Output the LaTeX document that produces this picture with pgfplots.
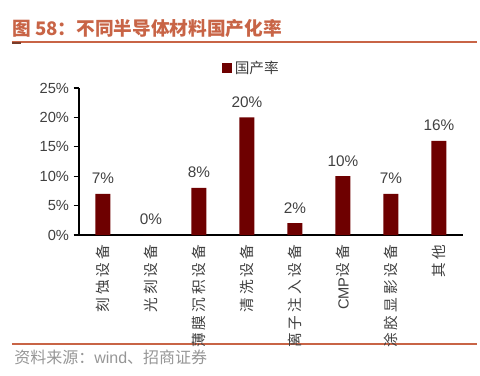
\documentclass[border=0pt]{standalone}
\usepackage{pgfplots}
\pgfplotsset{compat=1.18}
\usepackage{fontspec}
\setmainfont{Liberation Sans}
\newfontfamily\cjk{Noto Sans CJK SC}
\newfontfamily\cjksp{Noto Sans CJK SC}[LetterSpace=20]
\newfontfamily\lat{Liberation Sans}
\definecolor{barred}{RGB}{110,0,0}
\definecolor{titlecol}{RGB}{200,100,70}
\definecolor{txtgray}{RGB}{64,64,64}
\definecolor{srcgray}{RGB}{150,150,150}
\begin{document}
\begin{tikzpicture}
\useasboundingbox (0,0) rectangle (360pt,282pt);
\node[anchor=west, text=titlecol, font=\cjk\bfseries\fontsize{14}{15}\selectfont, inner sep=0pt] at (9pt,261pt) {图 58：不同半导体材料国产化率};
\draw[titlecol, line width=0.8pt] (9pt,250.5pt) -- (357.75pt,250.5pt);
\draw[titlecol!60!black, line width=1.5pt] (9pt,250pt) -- (16pt,250pt);
\draw[titlecol, line width=0.8pt] (9pt,24pt) -- (357.75pt,24pt);
\node[anchor=west, text=srcgray, font=\cjk\fontsize{12}{13}\selectfont, inner sep=0pt] at (10.5pt,14.25pt) {资料来源：{\lat wind}、招商证券};
\begin{axis}[
  at={(59.25pt,105.75pt)}, anchor=south west,
  scale only axis, width=288pt, height=110.25pt,
  xmin=-0.5, xmax=7.5, ymin=0, ymax=25,
  axis x line*=bottom, axis y line*=left,
  axis line style={-, black, line width=0.8pt},
  tick align=outside,
  ytick={0,5,10,15,20,25},
  yticklabel={\pgfmathprintnumber{\tick}\%},
  /pgf/number format/assume math mode=true,
  yticklabel style={font=\fontsize{11}{12}\selectfont, text=txtgray},
  y tick style={black, line width=0.8pt},
  major tick length=4pt,
  xtick={0,1,2,3,4,5,6,7},
  x tick style={draw=none},
  minor xtick={-0.5,0.5,1.5,2.5,3.5,4.5,5.5,6.5,7.5},
  minor x tick style={black, line width=0.8pt},
  minor tick length=4pt,
  xticklabels={刻蚀设备,光刻设备,薄膜沉积设备,清洗设备,离子注入设备,{\lat CMP}设备,涂胶显影设备,其他},
  xticklabel style={rotate=90, anchor=east, font=\cjksp\fontsize{11}{12}\selectfont, text=txtgray},
  legend style={at={(0.45,1.136)}, anchor=center, draw=none, fill=none, font=\cjk\fontsize{11}{12}\selectfont, text=txtgray, inner sep=0pt, legend cell align=left},
  legend image code/.code={\fill[barred] (0pt,-3.5pt) rectangle (7.5pt,4pt);},
  clip=false,
]
\addplot[ybar, bar width=11.25pt, fill=barred, draw=none,
  nodes near coords={\pgfmathprintnumber{\pgfplotspointmeta}\%},
  point meta=y,
  every node near coord/.append style={font=\fontsize{11.5}{12}\selectfont, text=txtgray, yshift=4pt}]
  coordinates {(0,7) (1,0) (2,8) (3,20) (4,2) (5,10) (6,7) (7,16)};
\addlegendentry{国产率}
\end{axis}
\end{tikzpicture}
\end{document}
